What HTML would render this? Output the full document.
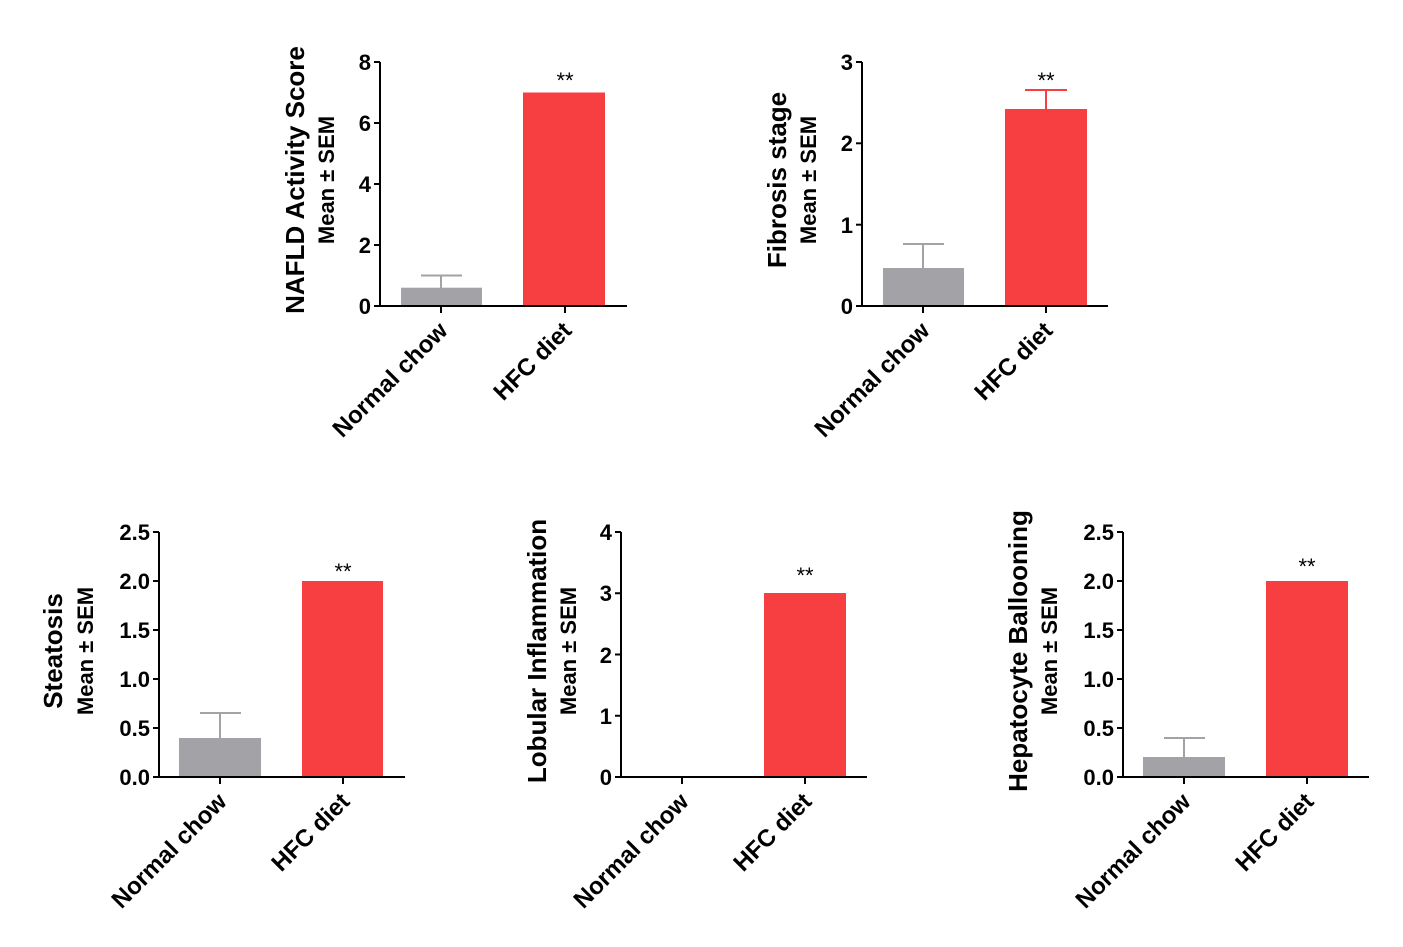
<!DOCTYPE html>
<html><head><meta charset="utf-8"><style>
html,body{margin:0;padding:0;background:#fff}
svg{display:block}
text{font-family:"Liberation Sans",Arial,sans-serif;fill:#000}
.t{font-size:22px;font-weight:bold;text-anchor:end}
.c{font-size:24px;font-weight:bold;text-anchor:end}
.ti{font-size:26px;font-weight:bold;text-anchor:middle}
.m{font-size:22px;font-weight:bold;text-anchor:middle}
.s{font-size:22px;text-anchor:middle}
line{stroke:#000;stroke-width:2}
.ge{stroke:#a3a2a7;stroke-width:2}
.re{stroke:#f73f42;stroke-width:2}
</style></head><body>
<svg width="1403" height="947" viewBox="0 0 1403 947">
<!-- Panel 1 -->
<g transform="translate(380,306)">
<rect x="21" y="-18.3" width="81" height="18.3" fill="#a3a2a7"/>
<line class="ge" x1="61" y1="-18" x2="61" y2="-30.5"/><line class="ge" x1="41" y1="-30.5" x2="82" y2="-30.5"/>
<rect x="143" y="-213.5" width="82" height="213.5" fill="#f73f42"/>
<text class="s" x="185" y="-218">**</text>
<line x1="0" y1="-244" x2="0" y2="1"/><line x1="-1" y1="0" x2="247" y2="0"/>
<line x1="-6" y1="0" x2="0" y2="0"/><line x1="-6" y1="-61" x2="0" y2="-61"/><line x1="-6" y1="-122" x2="0" y2="-122"/><line x1="-6" y1="-183" x2="0" y2="-183"/><line x1="-6" y1="-244" x2="0" y2="-244"/>
<text class="t" x="-9" y="8">0</text><text class="t" x="-9" y="-53">2</text><text class="t" x="-9" y="-114">4</text><text class="t" x="-9" y="-175">6</text><text class="t" x="-9" y="-236">8</text>
<line x1="61" y1="0" x2="61" y2="7"/><line x1="185" y1="0" x2="185" y2="7"/>
<text class="c" transform="translate(69,26) rotate(-45)">Normal chow</text>
<text class="c" transform="translate(193,26) rotate(-45)">HFC diet</text>
<text class="ti" transform="translate(-76,-126) rotate(-90)">NAFLD Activity Score</text>
<text class="m" transform="translate(-46,-126) rotate(-90)">Mean ± SEM</text>
</g>
<!-- Panel 2 -->
<g transform="translate(862,306)">
<rect x="21" y="-38" width="81" height="38" fill="#a3a2a7"/>
<line class="ge" x1="61" y1="-38" x2="61" y2="-62"/><line class="ge" x1="41" y1="-62" x2="82" y2="-62"/>
<rect x="143" y="-197" width="82" height="197" fill="#f73f42"/>
<line class="re" x1="184" y1="-197" x2="184" y2="-216"/><line class="re" x1="163" y1="-216" x2="205" y2="-216"/>
<text class="s" x="184" y="-218">**</text>
<line x1="0" y1="-244" x2="0" y2="1"/><line x1="-1" y1="0" x2="246" y2="0"/>
<line x1="-6" y1="0" x2="0" y2="0"/><line x1="-6" y1="-81.3" x2="0" y2="-81.3"/><line x1="-6" y1="-162.7" x2="0" y2="-162.7"/><line x1="-6" y1="-244" x2="0" y2="-244"/>
<text class="t" x="-9" y="8">0</text><text class="t" x="-9" y="-73">1</text><text class="t" x="-9" y="-155">2</text><text class="t" x="-9" y="-236">3</text>
<line x1="61" y1="0" x2="61" y2="7"/><line x1="184" y1="0" x2="184" y2="7"/>
<text class="c" transform="translate(69,26) rotate(-45)">Normal chow</text>
<text class="c" transform="translate(192,26) rotate(-45)">HFC diet</text>
<text class="ti" transform="translate(-76,-126) rotate(-90)">Fibrosis stage</text>
<text class="m" transform="translate(-46,-126) rotate(-90)">Mean ± SEM</text>
</g>
<!-- Panel 3 -->
<g transform="translate(159,777)">
<rect x="20" y="-39" width="82" height="39" fill="#a3a2a7"/>
<line class="ge" x1="61" y1="-39" x2="61" y2="-64"/><line class="ge" x1="41" y1="-64" x2="82" y2="-64"/>
<rect x="143" y="-196" width="81" height="196" fill="#f73f42"/>
<text class="s" x="184" y="-198">**</text>
<line x1="0" y1="-245" x2="0" y2="1"/><line x1="-1" y1="0" x2="246" y2="0"/>
<line x1="-6" y1="0" x2="0" y2="0"/><line x1="-6" y1="-49" x2="0" y2="-49"/><line x1="-6" y1="-98" x2="0" y2="-98"/><line x1="-6" y1="-147" x2="0" y2="-147"/><line x1="-6" y1="-196" x2="0" y2="-196"/><line x1="-6" y1="-245" x2="0" y2="-245"/>
<text class="t" x="-9" y="8">0.0</text><text class="t" x="-9" y="-41">0.5</text><text class="t" x="-9" y="-90">1.0</text><text class="t" x="-9" y="-139">1.5</text><text class="t" x="-9" y="-188">2.0</text><text class="t" x="-9" y="-237">2.5</text>
<line x1="61" y1="0" x2="61" y2="7"/><line x1="184" y1="0" x2="184" y2="7"/>
<text class="c" transform="translate(69,26) rotate(-45)">Normal chow</text>
<text class="c" transform="translate(192,26) rotate(-45)">HFC diet</text>
<text class="ti" transform="translate(-97,-126) rotate(-90)">Steatosis</text>
<text class="m" transform="translate(-66,-126) rotate(-90)">Mean ± SEM</text>
</g>
<!-- Panel 4 -->
<g transform="translate(621,777)">
<rect x="143" y="-184" width="82" height="184" fill="#f73f42"/>
<text class="s" x="184" y="-194">**</text>
<line x1="0" y1="-245" x2="0" y2="1"/><line x1="-1" y1="0" x2="246" y2="0"/>
<line x1="-6" y1="0" x2="0" y2="0"/><line x1="-6" y1="-61.25" x2="0" y2="-61.25"/><line x1="-6" y1="-122.5" x2="0" y2="-122.5"/><line x1="-6" y1="-183.75" x2="0" y2="-183.75"/><line x1="-6" y1="-245" x2="0" y2="-245"/>
<text class="t" x="-9" y="8">0</text><text class="t" x="-9" y="-53">1</text><text class="t" x="-9" y="-114">2</text><text class="t" x="-9" y="-176">3</text><text class="t" x="-9" y="-237">4</text>
<line x1="61" y1="0" x2="61" y2="7"/><line x1="184" y1="0" x2="184" y2="7"/>
<text class="c" transform="translate(69,26) rotate(-45)">Normal chow</text>
<text class="c" transform="translate(192,26) rotate(-45)">HFC diet</text>
<text class="ti" transform="translate(-75,-126) rotate(-90)">Lobular Inflammation</text>
<text class="m" transform="translate(-45,-126) rotate(-90)">Mean ± SEM</text>
</g>
<!-- Panel 5 -->
<g transform="translate(1123,777)">
<rect x="20" y="-20" width="82" height="20" fill="#a3a2a7"/>
<line class="ge" x1="61" y1="-20" x2="61" y2="-39"/><line class="ge" x1="41" y1="-39" x2="82" y2="-39"/>
<rect x="143" y="-196" width="82" height="196" fill="#f73f42"/>
<text class="s" x="184" y="-203">**</text>
<line x1="0" y1="-245" x2="0" y2="1"/><line x1="-1" y1="0" x2="246" y2="0"/>
<line x1="-6" y1="0" x2="0" y2="0"/><line x1="-6" y1="-49" x2="0" y2="-49"/><line x1="-6" y1="-98" x2="0" y2="-98"/><line x1="-6" y1="-147" x2="0" y2="-147"/><line x1="-6" y1="-196" x2="0" y2="-196"/><line x1="-6" y1="-245" x2="0" y2="-245"/>
<text class="t" x="-9" y="8">0.0</text><text class="t" x="-9" y="-41">0.5</text><text class="t" x="-9" y="-90">1.0</text><text class="t" x="-9" y="-139">1.5</text><text class="t" x="-9" y="-188">2.0</text><text class="t" x="-9" y="-237">2.5</text>
<line x1="61" y1="0" x2="61" y2="7"/><line x1="184" y1="0" x2="184" y2="7"/>
<text class="c" transform="translate(69,26) rotate(-45)">Normal chow</text>
<text class="c" transform="translate(192,26) rotate(-45)">HFC diet</text>
<text class="ti" transform="translate(-96,-126) rotate(-90)">Hepatocyte Ballooning</text>
<text class="m" transform="translate(-66,-126) rotate(-90)">Mean ± SEM</text>
</g>
</svg>
</body></html>
